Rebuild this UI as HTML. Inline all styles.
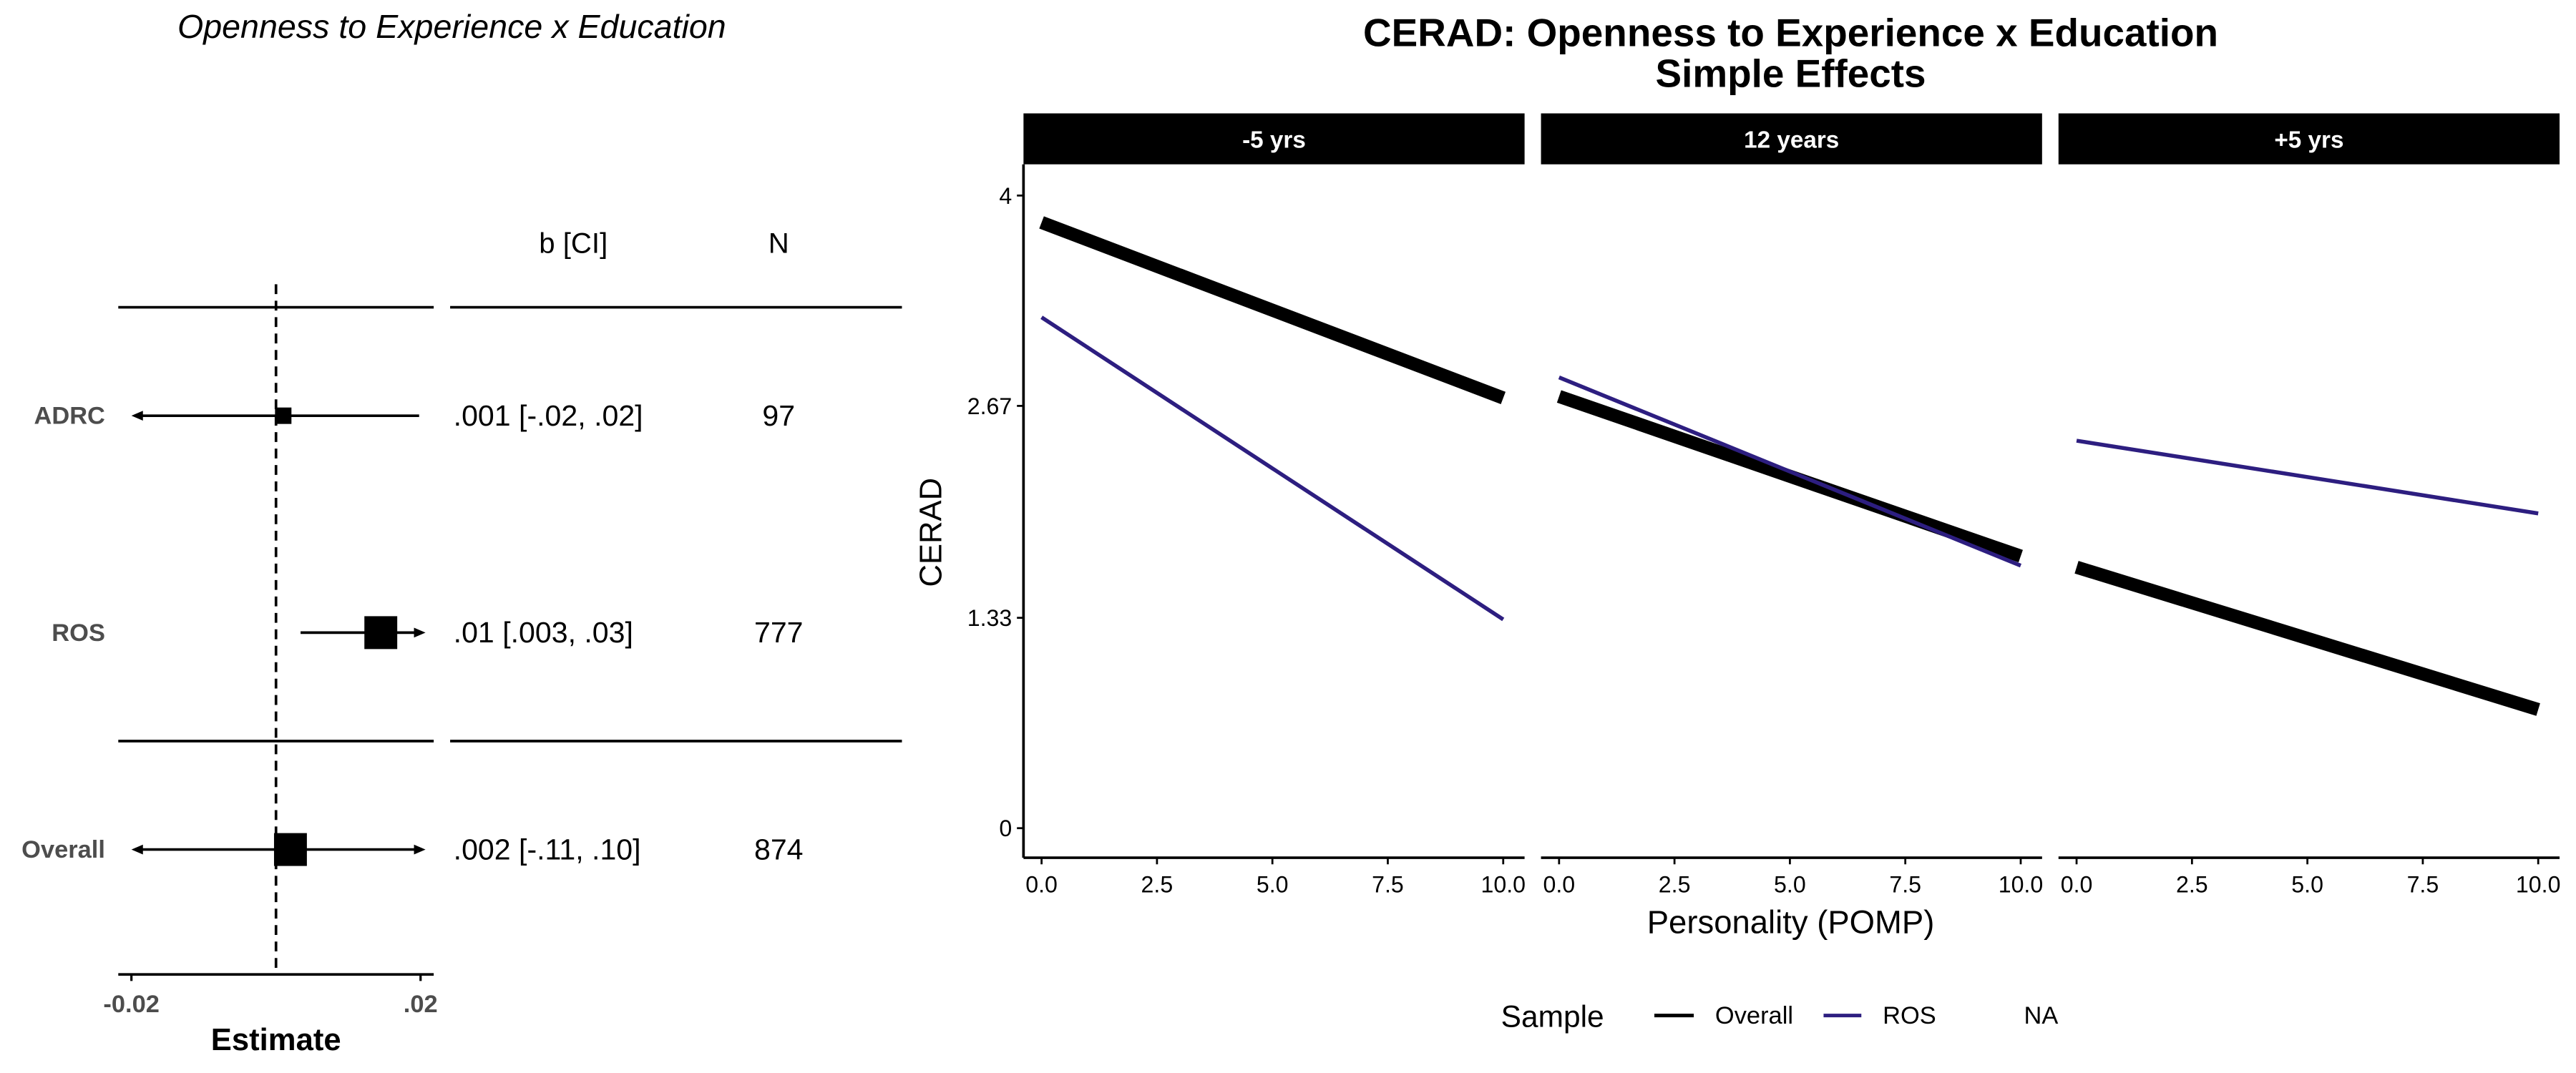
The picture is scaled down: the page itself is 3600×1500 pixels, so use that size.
<!DOCTYPE html>
<html><head><meta charset="utf-8"><style>
html,body{margin:0;padding:0;background:#fff;}
svg{display:block;font-family:"Liberation Sans",Arial,sans-serif;}
</style></head><body>
<svg id="chart" width="3600" height="1500" viewBox="0 0 1568 653" preserveAspectRatio="none" xmlns="http://www.w3.org/2000/svg">
<rect width="1568" height="653" fill="#fff"/>
<g id="forest"></g>
<g id="facets"></g>
</svg>
<script>
// ---- forest plot data ----
const studies = ["ADRC", "ROS", "Overall"];
const estimates = [0.001, 0.0145, 0.002];
const ciLow = [-0.025, 0.0034, -0.11];
const ciHigh = [0.0198, 0.03, 0.10];
const ciText = [".001 [-.02, .02]", ".01 [.003, .03]", ".002 [-.11, .10]"];
const nText = ["97", "777", "874"];
const squareSize = [10, 20, 20];
const forestTicks = [-0.02, 0.02];
const forestTickLabels = ["-0.02", ".02"];

// ---- simple effects data ----
const facetLabels = ["-5 yrs", "12 years", "+5 yrs"];
const xValues = [0, 10];
const overallStart = [3.83, 2.73, 1.65];
const overallEnd = [2.72, 1.72, 0.75];
const rosStart = [3.23, 2.85, 2.45];
const rosEnd = [1.32, 1.66, 1.99];
const yTicks = [0, 1.33, 2.67, 4];
const yTickLabels = ["0", "1.33", "2.67", "4"];
const xTicks = [0, 2.5, 5, 7.5, 10];
const xTickLabels = ["0.0", "2.5", "5.0", "7.5", "10.0"];

const NS = "http://www.w3.org/2000/svg";
function mk(parent, tag, attrs, text) {
  const e = document.createElementNS(NS, tag);
  for (const k in attrs) e.setAttribute(k, attrs[k]);
  if (text !== undefined) e.textContent = text;
  parent.appendChild(e);
  return e;
}

// ===== Forest plot =====
const F = document.getElementById('forest');
const fx = v => 168 + v * (256 - 80) / 0.04;
const fxc = v => Math.max(82, Math.min(257, fx(v)));
const rowY = [253, 385, 517];

let t = mk(F, 'text', {x: 275, y: 23, 'font-size': 20.3, 'font-style': 'italic', 'text-anchor': 'middle'}, 'Openness to Experience x Education');


t = mk(F, 'text', {x: 349, y: 154, 'font-size': 17.5, 'text-anchor': 'middle'}, 'b [CI]');


t = mk(F, 'text', {x: 474, y: 154, 'font-size': 17.5, 'text-anchor': 'middle'}, 'N');



[187, 451].forEach((y, i) => {
  let l = mk(F, 'line', {x1: 72, x2: 264, y1: y, y2: y, stroke: '#000', 'stroke-width': 1.6});
  
  
  l = mk(F, 'line', {x1: 274, x2: 549, y1: y, y2: y, stroke: '#000', 'stroke-width': 1.6});
  
  
});

let zl = mk(F, 'line', {x1: fx(0), x2: fx(0), y1: 173, y2: 593, stroke: '#000', 'stroke-width': 1.6, 'stroke-dasharray': '6,4'});


let ax = mk(F, 'line', {x1: 72, x2: 264, y1: 593, y2: 593, stroke: '#000', 'stroke-width': 1.6});


forestTicks.forEach((v, i) => {
  const tk = mk(F, 'line', {x1: fx(v), x2: fx(v), y1: 593, y2: 597, stroke: '#000', 'stroke-width': 1.4});
  
  
  const tl = mk(F, 'text', {x: fx(v), y: 616, 'font-size': 15, 'font-weight': 'bold', fill: '#4d4d4d', 'text-anchor': 'middle'}, forestTickLabels[i]);
  
  
});
t = mk(F, 'text', {x: fx(0), y: 639, 'font-size': 19, 'font-weight': 'bold', 'text-anchor': 'middle'}, 'Estimate');



function arrowHead(parent, x, y, dir) {
  const p = mk(parent, 'polygon', {points: `${x},${y} ${x - dir * 7},${y - 3} ${x - dir * 7},${y + 3}`, fill: '#000'});
  
  
}
studies.forEach((s, i) => {
  const y = rowY[i];
  const lbl = mk(F, 'text', {x: 64, y: y + 5, 'font-size': 15, 'font-weight': 'bold', fill: '#4d4d4d', 'text-anchor': 'end'}, s);
  
  
  const x1 = fxc(ciLow[i]), x2 = fxc(ciHigh[i]);
  const ln = mk(F, 'line', {x1: x1, x2: x2, y1: y, y2: y, stroke: '#000', 'stroke-width': 1.6});
  
  
  if (fx(ciLow[i]) < 82) arrowHead(F, 80, y, -1);
  if (fx(ciHigh[i]) > 257) arrowHead(F, 259, y, 1);
  const sz = squareSize[i];
  const sq = mk(F, 'rect', {x: fx(estimates[i]) - sz / 2, y: y - sz / 2, width: sz, height: sz, fill: '#000'});
  
  
  const ct = mk(F, 'text', {x: 276, y: y + 6, 'font-size': 17.9}, ciText[i]);
  
  
  const nt = mk(F, 'text', {x: 474, y: y + 6, 'font-size': 17.9, 'text-anchor': 'middle'}, nText[i]);
  
  
});

// ===== Facet plot =====
const G = document.getElementById('facets');
const panelX = [623, 938, 1253];
const panelW = 305;
const py = v => 504 - v * (504 - 119) / 4;
const px = (p, v) => panelX[p] + 11 + v * (281 / 10);

t = mk(G, 'text', {x: 1090, y: 28, 'font-size': 23.9, 'font-weight': 'bold', 'text-anchor': 'middle'}, 'CERAD: Openness to Experience x Education');


t = mk(G, 'text', {x: 1090, y: 53, 'font-size': 23.9, 'font-weight': 'bold', 'text-anchor': 'middle'}, 'Simple Effects');



facetLabels.forEach((f, p) => {
  const st = mk(G, 'rect', {x: panelX[p], y: 69, width: panelW, height: 31, fill: '#000'});
  
  
  const sl = mk(G, 'text', {x: panelX[p] + panelW / 2, y: 90, 'font-size': 14.5, 'font-weight': 'bold', fill: '#fff', 'text-anchor': 'middle'}, f);
  
  
  const xa = mk(G, 'line', {x1: panelX[p], x2: panelX[p] + panelW, y1: 522, y2: 522, stroke: '#000', 'stroke-width': 1.6});
  
  
  xTicks.forEach((v, i) => {
    const tk = mk(G, 'line', {x1: px(p, v), x2: px(p, v), y1: 522, y2: 526, stroke: '#000', 'stroke-width': 1.2});
    
    
    const tl = mk(G, 'text', {x: px(p, v), y: 543, 'font-size': 14, 'text-anchor': 'middle'}, xTickLabels[i]);
    
    
  });
  const ov = mk(G, 'line', {x1: px(p, xValues[0]), y1: py(overallStart[p]), x2: px(p, xValues[1]), y2: py(overallEnd[p]), stroke: '#000', 'stroke-width': 8});
  
  
  const ro = mk(G, 'line', {x1: px(p, xValues[0]), y1: py(rosStart[p]), x2: px(p, xValues[1]), y2: py(rosEnd[p]), stroke: '#2d1e80', 'stroke-width': 2.4});
  
  
});

let ya = mk(G, 'line', {x1: 623, x2: 623, y1: 100, y2: 522, stroke: '#000', 'stroke-width': 1.6});


yTicks.forEach((v, i) => {
  const tk = mk(G, 'line', {x1: 619, x2: 623, y1: py(v), y2: py(v), stroke: '#000', 'stroke-width': 1.2});
  
  
  const tl = mk(G, 'text', {x: 616, y: py(v) + 5, 'font-size': 14, 'text-anchor': 'end'}, yTickLabels[i]);
  
  
});
t = mk(G, 'text', {x: 0, y: 0, 'font-size': 19, 'text-anchor': 'middle', transform: 'translate(573,324) rotate(-90)'}, 'CERAD');


t = mk(G, 'text', {x: 1090, y: 568, 'font-size': 19.8, 'text-anchor': 'middle'}, 'Personality (POMP)');



// legend
t = mk(G, 'text', {x: 945, y: 625, 'font-size': 18.5, 'text-anchor': 'middle'}, 'Sample');


let lg = mk(G, 'line', {x1: 1007, x2: 1031, y1: 618, y2: 618, stroke: '#000', 'stroke-width': 2.2});


t = mk(G, 'text', {x: 1044, y: 623, 'font-size': 15}, 'Overall');


lg = mk(G, 'line', {x1: 1110, x2: 1133, y1: 618, y2: 618, stroke: '#2d1e80', 'stroke-width': 2.2});


t = mk(G, 'text', {x: 1146, y: 623, 'font-size': 15}, 'ROS');


t = mk(G, 'text', {x: 1232, y: 623, 'font-size': 15}, 'NA');


</script>
</body></html>
